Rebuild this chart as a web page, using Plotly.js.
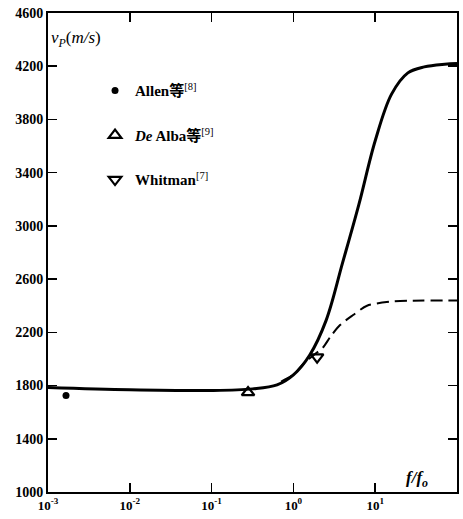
<!DOCTYPE html>
<html>
<head>
<meta charset="utf-8">
<script src="https://cdn.plot.ly/plotly-3.0.1.min.js"></script>
<style>html,body{margin:0;padding:0;background:#fff;}#chart{width:463px;height:519px;}</style>
</head>
<body>
<div id="chart"></div>
<script>
// f/f0 values and vP (m/s)
const solidF = [0.001, 0.01, 0.1, 0.316, 0.631, 1, 1.585, 2.512, 3.981, 6.31, 10, 15.85, 25.1, 39.8, 70.8, 100];
const solidV = [1785, 1768, 1763, 1775, 1805, 1880, 2030, 2290, 2720, 3160, 3640, 3990, 4150, 4195, 4215, 4220];
const dashF = [0.708, 1, 1.318, 1.778, 2.291, 2.818, 3.715, 5.37, 7.94, 15.1, 28.8, 100];
const dashV = [1830, 1882, 1962, 2030, 2085, 2165, 2255, 2330, 2400, 2430, 2438, 2440];
const allenF = [0.00166];
const allenV = [1725];
const deAlbaF = [0.279];
const deAlbaV = [1748];
const whitmanF = [1.95];
const whitmanV = [2014];
const xTickVals = [0.001, 0.01, 0.1, 1, 10, 100];
const xTickText = ['<b>10<sup>-3</sup></b>', '<b>10<sup>-2</sup></b>', '<b>10<sup>-1</sup></b>', '<b>10<sup>0</sup></b>', '<b>10<sup>1</sup></b>', '<b>10<sup>2</sup></b>'];
const yTickVals = [1000, 1400, 1800, 2200, 2600, 3000, 3400, 3800, 4200, 4600];
const yTickText = ['<b>1000</b>', '<b>1400</b>', '<b>1800</b>', '<b>2200</b>', '<b>2600</b>', '<b>3000</b>', '<b>3400</b>', '<b>3800</b>', '<b>4200</b>', '<b>4600</b>'];

const serif = '"Liberation Serif", "Noto Sans CJK SC", serif';

const traces = [
  {x: solidF, y: solidV, mode: 'lines', line: {color: '#000', width: 3, shape: 'spline', smoothing: 1}, showlegend: false, hoverinfo: 'skip'},
  {x: dashF, y: dashV, mode: 'lines', line: {color: '#000', width: 2, dash: '12px,6px', shape: 'spline', smoothing: 0.8}, showlegend: false, hoverinfo: 'skip'},
  {x: allenF, y: allenV, mode: 'markers', name: '<b>Allen等</b><sup>[8]</sup>', legendgroup: 'a',
   marker: {symbol: 'circle', size: 7, color: '#000'}},
  {x: deAlbaF, y: deAlbaV, mode: 'markers', name: '<b><i>De</i> Alba等</b><sup>[9]</sup>', legendgroup: 'b',
   marker: {symbol: 'triangle-up-open', size: 11, color: '#000', line: {width: 2.2, color: '#000'}}},
  {x: whitmanF, y: whitmanV, mode: 'markers', name: '<b>Whitman</b><sup>[7]</sup>', legendgroup: 'c',
   marker: {symbol: 'triangle-down-open', size: 11, color: '#000', line: {width: 2.2, color: '#000'}}}
];

const layout = {
  width: 463, height: 519,
  margin: {l: 48, r: 6, t: 13, b: 27},
  paper_bgcolor: '#fff', plot_bgcolor: '#fff',
  font: {family: serif, color: '#000', size: 14},
  showlegend: true,
  legend: {x: 0.115, y: 0.872, xanchor: 'left', yanchor: 'top', bgcolor: 'rgba(0,0,0,0)',
           tracegroupgap: 22, font: {family: serif, size: 15, color: '#000'}},
  xaxis: {type: 'log', range: [-3, 2], tickvals: xTickVals, ticktext: xTickText,
          ticks: 'inside', ticklen: 9, tickwidth: 1.6, tickcolor: '#000',
          showline: true, linecolor: '#000', linewidth: 2, mirror: 'ticks',
          showgrid: false, zeroline: false,
          tickfont: {family: serif, size: 13, color: '#000'}},
  yaxis: {range: [1000, 4600], tickvals: yTickVals, ticktext: yTickText,
          ticks: 'inside', ticklen: 9, tickwidth: 1.6, tickcolor: '#000',
          showline: true, linecolor: '#000', linewidth: 2, mirror: 'ticks',
          showgrid: false, zeroline: false,
          tickfont: {family: serif, size: 14, color: '#000'}},
  annotations: [
    {xref: 'paper', yref: 'paper', x: 0.003, y: 0.945, xanchor: 'left', yanchor: 'middle', showarrow: false,
     text: '<i>v<sub>P</sub></i>(<i>m/s</i>)', font: {family: serif, size: 17, color: '#000'}},
    {xref: 'paper', yref: 'paper', x: 0.935, y: 0.0, xanchor: 'right', yanchor: 'bottom', showarrow: false,
     text: '<b><i>f/f<sub>o</sub></i></b>', font: {family: serif, size: 17, color: '#000'}}
  ]
};

Plotly.newPlot('chart', traces, layout, {displayModeBar: false, staticPlot: true});
</script>
</body>
</html>
